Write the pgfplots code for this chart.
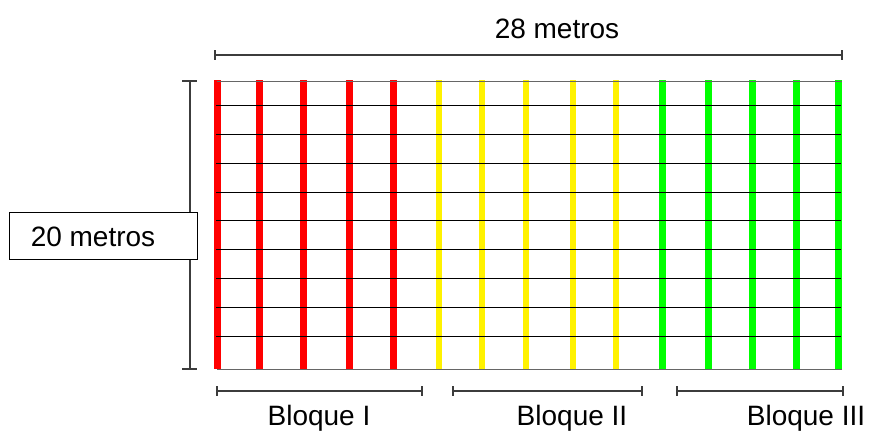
\documentclass[border=0pt]{standalone}
\usepackage{pgfplots}
\pgfplotsset{compat=1.18}
\usepackage{fontspec}
\setmainfont{Liberation Sans}
\definecolor{dimgray}{RGB}{60,60,60}
\begin{document}
\begin{tikzpicture}
\begin{axis}[
  scale only axis, width=869pt, height=432pt,
  xmin=0, xmax=869, ymin=0, ymax=432, y dir=reverse,
  hide axis, clip=false,
]
\path (axis cs:0,0) rectangle (axis cs:869,432);
% red bars (Bloque I)
\addplot[red, line width=7pt, forget plot] coordinates {(217,80) (217,369)};
\addplot[red, line width=7pt, forget plot] coordinates {(259,80) (259,369)};
\addplot[red, line width=7pt, forget plot] coordinates {(303,80) (303,369)};
\addplot[red, line width=7pt, forget plot] coordinates {(349,80) (349,369)};
\addplot[red, line width=7pt, forget plot] coordinates {(393,80) (393,369)};
% yellow bars (Bloque II)
\addplot[yellow, line width=6.5pt, forget plot] coordinates {(439,80) (439,369)};
\addplot[yellow, line width=6.5pt, forget plot] coordinates {(482,80) (482,369)};
\addplot[yellow, line width=6.5pt, forget plot] coordinates {(526,80) (526,369)};
\addplot[yellow, line width=6.5pt, forget plot] coordinates {(573,80) (573,369)};
\addplot[yellow, line width=6.5pt, forget plot] coordinates {(616,80) (616,369)};
% green bars (Bloque III)
\addplot[green, line width=7pt, forget plot] coordinates {(662,80) (662,369)};
\addplot[green, line width=7pt, forget plot] coordinates {(708,80) (708,369)};
\addplot[green, line width=7pt, forget plot] coordinates {(752,80) (752,369)};
\addplot[green, line width=7pt, forget plot] coordinates {(796,80) (796,369)};
\addplot[green, line width=7pt, forget plot] coordinates {(838,80) (838,369)};
% horizontal lines
\addplot[black!60, line width=1pt, forget plot] coordinates {(217,81) (842,81)};
\pgfplotsinvokeforeach{105,134,163,192,220,249,278,307,336}{
  \addplot[black, line width=0.9pt, forget plot] coordinates {(216,#1) (841,#1)};
}
\addplot[black!60, line width=1pt, forget plot] coordinates {(217,369) (842,369)};
% top dimension
\draw[dimgray, line width=1.1pt] (axis cs:215,55) -- (axis cs:842,55);
\draw[dimgray, line width=1.1pt] (axis cs:215,50) -- (axis cs:215,60);
\draw[dimgray, line width=1.1pt] (axis cs:842,50) -- (axis cs:842,60);
\node[font=\fontsize{28}{32}\selectfont] at (axis cs:557,29) {28 metros};
% left dimension
\draw[dimgray, line width=1.1pt] (axis cs:190,81) -- (axis cs:190,369);
\draw[dimgray, line width=1.1pt] (axis cs:182,81) -- (axis cs:197,81);
\draw[dimgray, line width=1.1pt] (axis cs:182,369) -- (axis cs:197,369);
\draw[black, line width=1pt, fill=white] (axis cs:9,212) rectangle (axis cs:197,259);
\node[font=\fontsize{28}{32}\selectfont] at (axis cs:93,237) {20 metros};
% bottom dimensions
\draw[dimgray, line width=1.1pt] (axis cs:217,391) -- (axis cs:422,391);
\draw[dimgray, line width=1.1pt] (axis cs:217,386) -- (axis cs:217,396);
\draw[dimgray, line width=1.1pt] (axis cs:422,386) -- (axis cs:422,396);
\draw[dimgray, line width=1.1pt] (axis cs:453,391) -- (axis cs:642,391);
\draw[dimgray, line width=1.1pt] (axis cs:453,386) -- (axis cs:453,396);
\draw[dimgray, line width=1.1pt] (axis cs:642,386) -- (axis cs:642,396);
\draw[dimgray, line width=1.1pt] (axis cs:677,391) -- (axis cs:843,391);
\draw[dimgray, line width=1.1pt] (axis cs:677,386) -- (axis cs:677,396);
\draw[dimgray, line width=1.1pt] (axis cs:843,386) -- (axis cs:843,396);
\node[font=\fontsize{28}{32}\selectfont] at (axis cs:319,418) {Bloque I};
\node[font=\fontsize{28}{32}\selectfont] at (axis cs:572,418) {Bloque II};
\node[font=\fontsize{28}{32}\selectfont] at (axis cs:806,418) {Bloque III};
\end{axis}
\end{tikzpicture}
\end{document}
